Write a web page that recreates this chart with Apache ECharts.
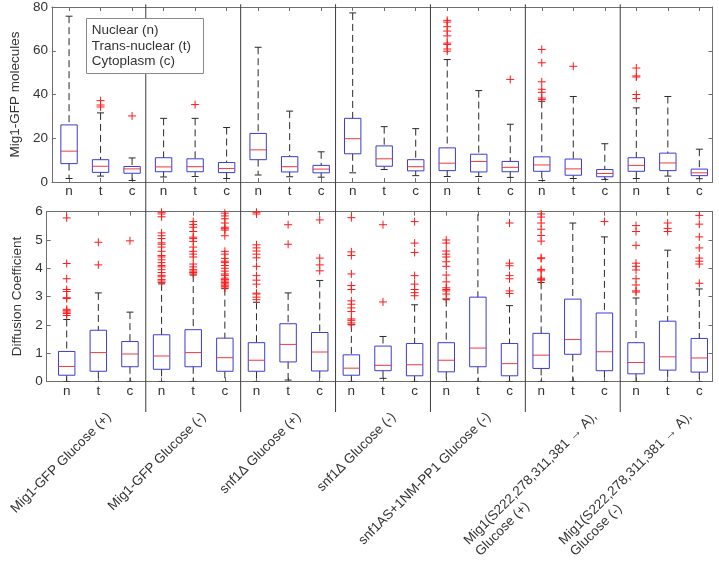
<!DOCTYPE html>
<html><head><meta charset="utf-8">
<script src="https://cdn.jsdelivr.net/npm/echarts@6/dist/echarts.min.js"></script>
<style>html,body{margin:0;padding:0;background:#fff}#c{width:719px;height:561px}</style>
</head><body><div id="c"></div>
<script>
// ---------- DATA ----------
const tickLabels = ['n','t','c','n','t','c','n','t','c','n','t','c','n','t','c','n','t','c','n','t','c'];
const groupNames = [
  'Mig1-GFP Glucose (+)',
  'Mig1-GFP Glucose (-)',
  'snf1Δ Glucose (+)',
  'snf1Δ Glucose (-)',
  'snf1AS+1NM-PP1 Glucose (-)',
  'Mig1(S222,278,311,381 → A),\nGlucose (+)',
  'Mig1(S222,278,311,381 → A),\nGlucose (-)'
];
const legendLines = ['Nuclear (n)', 'Trans-nuclear (t)', 'Cytoplasm (c)'];
const molTicks = [0, 20, 40, 60, 80];
const difTicks = [0, 1, 2, 3, 4, 5, 6];

// Mig1-GFP molecules: [lower whisker, Q1, median, Q3, upper whisker]
const molBoxes = [
  [1.6, 8.4, 14.1, 26.1, 75.8], [2.7, 4.4, 7.2, 10.2, 31.6], [0.7, 4.0, 6.0, 7.1, 11.0],
  [2.3, 4.7, 6.9, 11.1, 29.1], [2.5, 4.7, 7.0, 10.6, 29.1], [1.6, 4.3, 6.2, 8.9, 24.9],
  [3.2, 10.2, 14.7, 22.2, 61.6], [2.4, 4.6, 7.0, 11.6, 32.4], [2.2, 4.2, 5.9, 7.6, 13.8],
  [4.2, 12.9, 19.8, 29.1, 77.3], [5.7, 7.2, 10.6, 16.5, 25.3], [2.9, 5.1, 7.0, 10.2, 24.4],
  [2.5, 5.2, 8.6, 15.6, 56.0], [2.5, 4.6, 9.4, 12.7, 41.8], [2.1, 4.7, 6.7, 9.4, 26.4],
  [0.7, 4.9, 7.8, 11.5, 36.9], [1.6, 3.1, 6.0, 10.5, 39.1], [1.2, 2.4, 3.9, 5.7, 17.5],
  [1.6, 4.9, 7.6, 11.1, 33.9], [2.7, 5.2, 8.7, 13.2, 39.1], [1.5, 2.9, 4.2, 5.9, 15.0]
];
const molOutliers = [
  [], [37.2, 35.2, 34.3], [30.2],
  [], [35.4], [],
  [], [], [],
  [], [], [],
  [73.9, 73.1, 71.0, 69.0, 66.8, 63.5, 62.9, 60.8, 59.8], [], [46.9],
  [60.6, 54.5, 45.8, 42.4, 41.0, 38.4, 37.7], [52.9], [],
  [52.1, 48.5, 48.0, 40.0, 38.2], [], []
];

// Diffusion coefficient: [lower whisker, Q1, median, Q3, upper whisker]
const difBoxes = [
  [0, 0.22, 0.53, 1.06, 2.19], [0, 0.36, 1.02, 1.81, 3.13], [0, 0.52, 0.97, 1.41, 2.45],
  [0, 0.43, 0.90, 1.65, 3.45], [0, 0.52, 1.02, 1.83, 3.76], [0, 0.36, 0.84, 1.53, 3.28],
  [0, 0.36, 0.75, 1.37, 2.80], [0.05, 0.69, 1.31, 2.04, 3.13], [0, 0.37, 1.04, 1.73, 3.57],
  [0, 0.22, 0.47, 0.94, 2.00], [0.11, 0.38, 0.57, 1.25, 1.59], [0, 0.20, 0.59, 1.34, 2.71],
  [0, 0.34, 0.75, 1.37, 2.89], [0, 0.52, 1.18, 2.98, 6.30], [0, 0.20, 0.63, 1.34, 2.68],
  [0, 0.46, 0.93, 1.70, 3.50], [0, 0.96, 1.48, 2.91, 5.60], [0, 0.38, 1.05, 2.42, 5.11],
  [0, 0.27, 0.67, 1.37, 2.95], [0, 0.40, 0.87, 2.13, 4.64], [0, 0.33, 0.83, 1.52, 3.27]
];
const difOutliers = [
  [5.78, 4.17, 3.63, 3.25, 3.18, 2.96, 2.93, 2.55, 2.50, 2.45, 2.40, 2.33],
  [4.92, 4.12],
  [4.97],
  [5.98, 5.92, 5.82, 5.25, 5.15, 5.05, 4.90, 4.85, 4.75, 4.60, 4.45, 4.40, 4.30, 4.20, 4.10, 4.05, 3.95, 3.85, 3.75, 3.70, 3.60, 3.55, 3.50],
  [5.65, 5.55, 5.45, 5.30, 5.10, 5.05, 4.95, 4.75, 4.60, 4.50, 4.40, 4.15, 4.05, 3.95, 3.90, 3.85, 3.80],
  [5.95, 5.85, 5.75, 5.60, 5.45, 5.40, 5.35, 5.15, 4.60, 4.50, 4.35, 4.25, 4.20, 4.10, 4.00, 3.90, 3.80, 3.75, 3.65, 3.60, 3.55, 3.50, 3.45, 3.40, 3.35, 3.30],
  [5.98, 5.92, 4.83, 4.72, 4.61, 4.50, 4.37, 4.07, 3.74, 3.58, 3.44, 3.12, 3.09, 2.98, 2.89],
  [5.54, 4.85],
  [5.71, 4.36, 4.12, 3.91],
  [5.79, 4.58, 4.45, 3.80, 3.39, 3.25, 2.85, 2.73, 2.60, 2.47, 2.21, 2.16, 2.07, 2.02],
  [5.54, 2.81],
  [5.65, 4.89, 4.56, 3.74, 3.44, 3.25, 3.14, 3.03],
  [5.00, 4.89, 4.61, 4.50, 4.40, 4.23, 4.07, 3.76, 3.52, 3.31, 3.25, 3.20, 3.09, 2.92],
  [],
  [5.60, 4.18, 4.09, 3.74, 3.63, 3.20, 3.11],
  [5.92, 5.81, 5.60, 5.38, 5.16, 4.96, 4.37, 4.34, 3.96, 3.91, 3.65, 3.61, 3.58],
  [],
  [5.65],
  [5.51, 5.30, 4.81, 4.18, 4.07, 3.94, 3.63, 3.41, 3.20, 3.16],
  [5.60, 5.41, 5.30],
  [5.87, 5.56, 5.11, 4.72, 4.36, 4.25, 4.15, 3.47]
];

// ---------- LAYOUT / STYLE ----------
const W = 719, H = 561;
const PX_FIRST = 66.7, PITCH = 31.63;
const TOP_LEFT = 49.5, BOT_LEFT = 46.7, RIGHT_EDGE = 712.5;
const TOP_T = 4.3, TOP_B = 182, BOT_T = 211.7, BOT_B = 395, SEP_B = 412;
const xMinTop = 1 + (TOP_LEFT - PX_FIRST) / PITCH;
const xMinBot = 1 + (BOT_LEFT - PX_FIRST) / PITCH;
const xMax = 1 + (RIGHT_EDGE - PX_FIRST) / PITCH;
const BOX_HALF = 0.26, CAP_HALF = 0.11, PLUS = 4;
const FONT = 'Liberation Sans';
const TXT = '#333333', AXIS = '#6e6e6e', SEP = '#3c3c3c';
const BOXC = '#3b3bd6', MEDC = '#f03a3a', WHC = '#2a2a2a', OUTC = '#ff1a1a';
const FS = 13.5;

const positions = tickLabels.map((_, i) => i + 1);
const groupCenters = groupNames.map((_, g) => g * 3 + 2);
const separators = groupNames.slice(1).map((_, g) => g * 3 + 3.5);

function boxData(boxes) { return boxes.map((b, i) => [positions[i]].concat(b)); }
function outData(outs) {
  const r = [];
  outs.forEach((arr, i) => arr.forEach(v => r.push([positions[i], v])));
  return r;
}

function boxItem(params, api) {
  const x = api.value(0);
  const lo = api.value(1), q1 = api.value(2), md = api.value(3), q3 = api.value(4), hi = api.value(5);
  const pLo = api.coord([x, lo]), pQ1 = api.coord([x, q1]), pMd = api.coord([x, md]);
  const pQ3 = api.coord([x, q3]), pHi = api.coord([x, hi]);
  const bl = api.coord([x - BOX_HALF, q1])[0], br = api.coord([x + BOX_HALF, q1])[0];
  const cl = api.coord([x - CAP_HALF, q1])[0], cr = api.coord([x + CAP_HALF, q1])[0];
  const dash = { stroke: WHC, lineWidth: 1, lineDash: [7, 4] };
  const solid = { stroke: WHC, lineWidth: 1 };
  return { type: 'group', children: [
    { type: 'line', shape: { x1: pHi[0], y1: pHi[1], x2: pQ3[0], y2: pQ3[1] }, style: dash },
    { type: 'line', shape: { x1: pQ1[0], y1: pQ1[1], x2: pLo[0], y2: pLo[1] }, style: dash },
    { type: 'line', shape: { x1: cl, y1: pHi[1], x2: cr, y2: pHi[1] }, style: solid },
    { type: 'line', shape: { x1: cl, y1: pLo[1], x2: cr, y2: pLo[1] }, style: solid },
    { type: 'rect', shape: { x: bl, y: pQ3[1], width: br - bl, height: pQ1[1] - pQ3[1] },
      style: { fill: 'none', stroke: BOXC, lineWidth: 1 } },
    { type: 'line', shape: { x1: bl, y1: pMd[1], x2: br, y2: pMd[1] }, style: { stroke: MEDC, lineWidth: 1 } }
  ]};
}
function plusItem(params, api) {
  const p = api.coord([api.value(0), api.value(1)]);
  const st = { stroke: OUTC, lineWidth: 1 };
  return { type: 'group', children: [
    { type: 'line', shape: { x1: p[0] - PLUS, y1: p[1], x2: p[0] + PLUS, y2: p[1] }, style: st },
    { type: 'line', shape: { x1: p[0], y1: p[1] - PLUS, x2: p[0], y2: p[1] + PLUS }, style: st }
  ]};
}
function sepItem(params, api) {
  const x = api.value(0);
  const a = api.coord([x, 0]), b = api.coord([x, 1]);
  return { type: 'line', shape: { x1: a[0], y1: a[1], x2: b[0], y2: b[1] }, style: { stroke: SEP, lineWidth: 1 } };
}

function catAxis(grid, min, pos, showLabel, margin) {
  return {
    type: 'value', gridIndex: grid, min: min, max: xMax, position: pos,
    axisLine: { show: true, onZero: false, lineStyle: { color: AXIS, width: 1 } },
    splitLine: { show: false },
    axisTick: { show: true, inside: true, length: 4, customValues: positions, lineStyle: { color: AXIS } },
    axisLabel: { show: showLabel, customValues: positions, margin: margin,
      formatter: v => tickLabels[Math.round(v) - 1], fontFamily: FONT, fontSize: FS, color: TXT }
  };
}
function valAxis(grid, max, interval, pos, showLabel, name, gap) {
  return {
    type: 'value', gridIndex: grid, min: 0, max: max, interval: interval, position: pos,
    name: name || '', nameLocation: 'middle', nameGap: gap || 0,
    nameTextStyle: { fontFamily: FONT, fontSize: FS, color: TXT },
    axisLine: { show: true, onZero: false, lineStyle: { color: AXIS, width: 1 } },
    splitLine: { show: false },
    axisTick: { show: true, inside: true, length: 4, lineStyle: { color: AXIS } },
    axisLabel: { show: showLabel, margin: 4, fontFamily: FONT, fontSize: FS, color: TXT }
  };
}
// group names: lines left-aligned inside a block anchored by its right end
function groupAxis(values, margin, padTop) {
  return {
    type: 'value', gridIndex: 1, min: xMinBot, max: xMax, position: 'bottom',
    axisLine: { show: false }, axisTick: { show: false }, splitLine: { show: false },
    axisLabel: { show: true, customValues: values, rotate: 45, align: 'right', verticalAlign: 'top',
      margin: margin, padding: [padTop, 0, 0, 0],
      formatter: v => groupNames[Math.round((v - 2) / 3)].split('\n').map(s => '{g|' + s + '}').join('\n'),
      rich: { g: { fontFamily: FONT, fontSize: FS, color: TXT, lineHeight: 16, align: 'left' } },
      fontFamily: FONT, fontSize: FS, color: TXT }
  };
}

const chart = echarts.init(document.getElementById('c'), null, { renderer: 'canvas', width: W, height: H });
chart.setOption({
  animation: false,
  backgroundColor: '#ffffff',
  grid: [
    { left: TOP_LEFT, right: W - RIGHT_EDGE, top: TOP_T, height: TOP_B - TOP_T },
    { left: BOT_LEFT, right: W - RIGHT_EDGE, top: BOT_T, height: BOT_B - BOT_T },
    { left: BOT_LEFT, right: W - RIGHT_EDGE, top: TOP_T, height: SEP_B - TOP_T }
  ],
  xAxis: [
    catAxis(0, xMinTop, 'bottom', true, 2),
    catAxis(0, xMinTop, 'top', false, 2),
    catAxis(1, xMinBot, 'bottom', true, 3),
    catAxis(1, xMinBot, 'top', false, 3),
    groupAxis(groupCenters.slice(0, 5), 23, 7),
    groupAxis(groupCenters.slice(5), 11, 23),
    { type: 'value', gridIndex: 2, min: xMinBot, max: xMax, show: false }
  ],
  yAxis: [
    valAxis(0, molTicks[molTicks.length - 1], molTicks[1] - molTicks[0], 'left', true, 'Mig1-GFP molecules', 24),
    valAxis(0, molTicks[molTicks.length - 1], molTicks[1] - molTicks[0], 'right', false),
    valAxis(1, difTicks[difTicks.length - 1], difTicks[1] - difTicks[0], 'left', true, 'Diffusion Coefficient', 19),
    valAxis(1, difTicks[difTicks.length - 1], difTicks[1] - difTicks[0], 'right', false),
    { type: 'value', gridIndex: 2, min: 0, max: 1, show: false }
  ],
  series: [
    { type: 'custom', xAxisIndex: 6, yAxisIndex: 4, data: separators.map(s => [s]), renderItem: sepItem, silent: true, z: 1 },
    { type: 'custom', xAxisIndex: 0, yAxisIndex: 0, data: boxData(molBoxes), renderItem: boxItem, clip: true, silent: true, z: 2 },
    { type: 'custom', xAxisIndex: 0, yAxisIndex: 0, data: outData(molOutliers), renderItem: plusItem, silent: true, z: 3 },
    { type: 'custom', xAxisIndex: 2, yAxisIndex: 2, data: boxData(difBoxes), renderItem: boxItem, clip: true, silent: true, z: 2 },
    { type: 'custom', xAxisIndex: 2, yAxisIndex: 2, data: outData(difOutliers), renderItem: plusItem, silent: true, z: 3 }
  ],
  graphic: [
    { type: 'rect', z: 10, shape: { x: 86.5, y: 18.5, width: 117, height: 55 },
      style: { fill: '#ffffff', stroke: '#8a8a8a', lineWidth: 1 } }
  ].concat(legendLines.map((t, i) => ({
    type: 'text', z: 11, x: 91.7, y: 30.7 + i * 15.5,
    style: { text: t, fontFamily: FONT, fontSize: FS, fill: TXT, verticalAlign: 'middle', align: 'left' }
  })))
});
</script></body></html>
